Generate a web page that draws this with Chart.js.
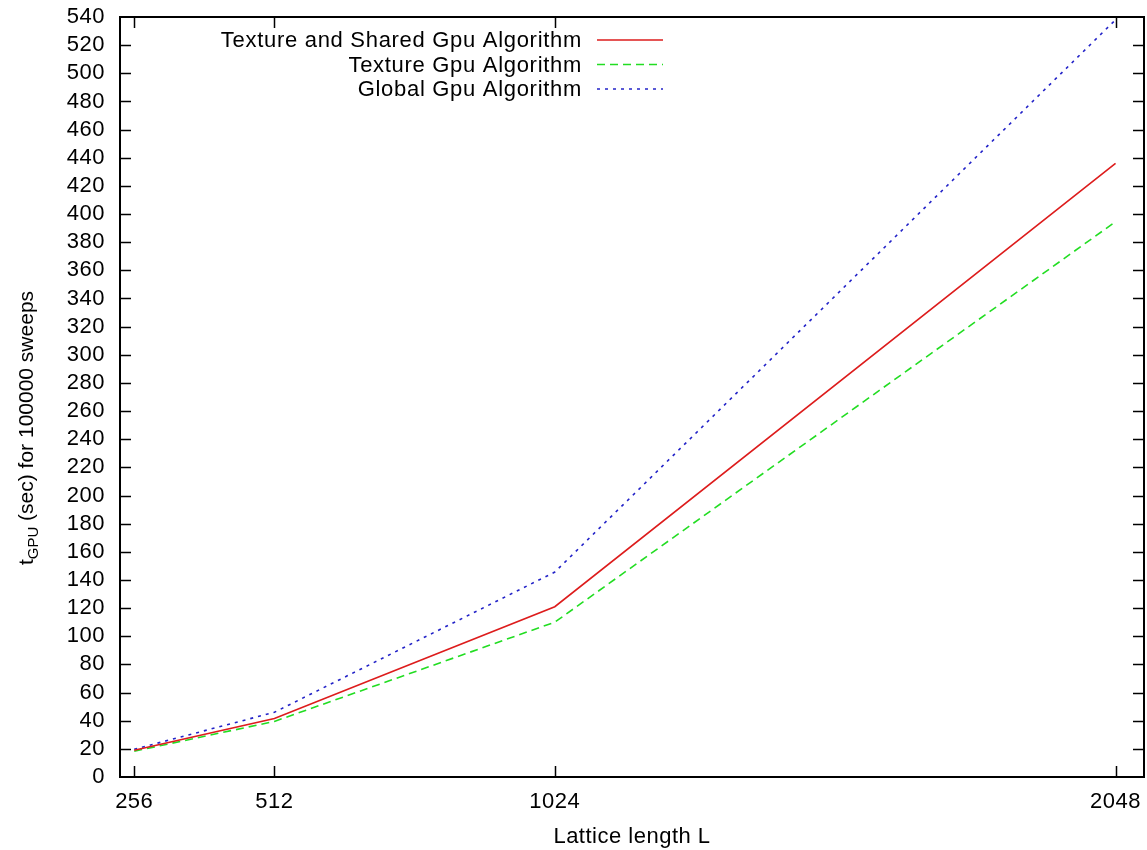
<!DOCTYPE html>
<html>
<head>
<meta charset="utf-8">
<script src="https://cdn.jsdelivr.net/npm/chart.js@4/dist/chart.umd.min.js"></script>
<style>
  html, body { margin:0; padding:0; background:#fff; }
  #wrap { width:1147px; height:850px; position:relative; }
</style>
</head>
<body>
<div id="wrap"><canvas id="c"></canvas></div>
<script>
// Data
const lengths   = [256, 512, 1024, 2048];
const texShared = [19, 41.5, 121, 436];
const texture   = [18.3, 39.5, 110, 394.5];
const globalMem = [19.7, 46, 145.6, 538];
const xTicks    = [256, 512, 1024, 2048];

const labels = ["Texture and Shared Gpu Algorithm", "Texture Gpu Algorithm", "Global Gpu Algorithm"];
const colors = ["#dd1c1c", "#22dd22", "#2323c8"];
const dashes = [[], [8, 5], [3, 5]];

const FONT = "'Liberation Sans', Arial, Helvetica, sans-serif";
const toPts = ys => lengths.map((x,i)=>({ x, y: ys[i] }));

// slightly looser text like the gnuplot output
const spacing = {
    id: "spacing",
    beforeDraw(chart){ chart.ctx.letterSpacing = "0.5px"; }
};

// gnuplot style frame with inward ticks on all four sides
const frame = {
    id: "frame",
    afterDatasetsDraw(chart){
        const { ctx, chartArea:a, scales:{ x, y } } = chart;
        ctx.save();
        ctx.strokeStyle = "#000"; ctx.lineWidth = 1.5; ctx.setLineDash([]);
        ctx.beginPath();
        y.ticks.forEach(t=>{
            if (t.value === 0 || t.value === 540) return;
            const py = Math.round(y.getPixelForValue(t.value)) + 0.5;
            ctx.moveTo(a.left, py); ctx.lineTo(a.left + 11, py);
            ctx.moveTo(a.right, py); ctx.lineTo(a.right - 11, py);
        });
        x.ticks.forEach(t=>{
            const px = Math.round(x.getPixelForValue(t.value)) + 0.5;
            ctx.moveTo(px, a.bottom); ctx.lineTo(px, a.bottom - 11);
            ctx.moveTo(px, a.top); ctx.lineTo(px, a.top + 11);
        });
        ctx.stroke();
        ctx.lineWidth = 2;
        ctx.strokeRect(a.left, a.top, a.right - a.left, a.bottom - a.top);
        ctx.restore();
    }
};

// key in the top left, text right aligned then the line sample
const key = {
    id: "key",
    afterDraw(chart){
        const { ctx } = chart;
        ctx.save();
        ctx.font = `22px ${FONT}`;
        ctx.letterSpacing = "0.7px";
        ctx.textAlign = "right"; ctx.textBaseline = "middle";
        chart.data.datasets.forEach((ds,i)=>{
            const yy = 40 + i * 24.5;
            ctx.fillStyle = "#000";
            ctx.fillText(ds.label, 582, yy + 1);
            ctx.strokeStyle = ds.borderColor; ctx.lineWidth = 1.5;
            ctx.setLineDash(ds.borderDash || []);
            ctx.beginPath(); ctx.moveTo(597, yy); ctx.lineTo(663, yy); ctx.stroke();
        });
        ctx.restore();
    }
};

// rotated y title with subscript
const yTitle = {
    id: "yTitle",
    afterDraw(chart){
        const { ctx } = chart;
        ctx.save();
        ctx.translate(33, 428);
        ctx.rotate(-Math.PI/2);
        ctx.fillStyle = "#000"; ctx.textBaseline = "alphabetic"; ctx.textAlign = "left";
        ctx.letterSpacing = "0px";
        const big = `21px ${FONT}`, small = `15px ${FONT}`;
        const parts = [["t", big, 0], ["GPU", small, 5], [" (sec) for 100000 sweeps", big, 0]];
        let w = 0;
        parts.forEach(([s,f])=>{ ctx.font = f; w += ctx.measureText(s).width; });
        let px = -w/2;
        parts.forEach(([s,f,dy])=>{ ctx.font = f; ctx.fillText(s, px, dy); px += ctx.measureText(s).width; });
        ctx.restore();
    }
};

new Chart(document.getElementById("c"), {
    type: "line",
    data: {
        datasets: [texShared, texture, globalMem].map((ys,i)=>({
            label: labels[i],
            data: toPts(ys),
            borderColor: colors[i],
            borderDash: dashes[i],
            borderWidth: 1.6,
            pointRadius: 0,
            fill: false,
            tension: 0
        }))
    },
    options: {
        responsive: true, maintainAspectRatio: false, animation: false,
        layout: { padding: { top: 17, right: 3, left: 0, bottom: 0 } },
        plugins: { legend: { display:false }, tooltip: { enabled:false } },
        scales: {
            x: {
                type: "linear", min: 230, max: 2100,
                afterBuildTicks: s => { s.ticks = xTicks.map(v=>({ value:v })); },
                afterFit: s => { s.height = 73; s.paddingLeft = 0; s.paddingRight = 0; },
                grid: { display:false, drawTicks:false },
                border: { display:false },
                ticks: { color:"#000", padding: 12, autoSkip:false, maxRotation:0,
                         callback: v => String(v), font: { family: FONT, size: 22 } },
                title: { display:true, text:"Lattice length L", color:"#000", padding: { top: 6, bottom: 0 }, font: { family: FONT, size: 22 } }
            },
            y: {
                min: 0, max: 540,
                afterFit: s => { s.width = 120; s.paddingTop = 0; s.paddingBottom = 0; },
                grid: { display:false, drawTicks:false },
                border: { display:false },
                ticks: { stepSize: 20, autoSkip:false, color:"#000", padding: 15, font: { family: FONT, size: 22 } }
            }
        }
    },
    plugins: [spacing, frame, key, yTitle]
});
</script>
</body>
</html>
